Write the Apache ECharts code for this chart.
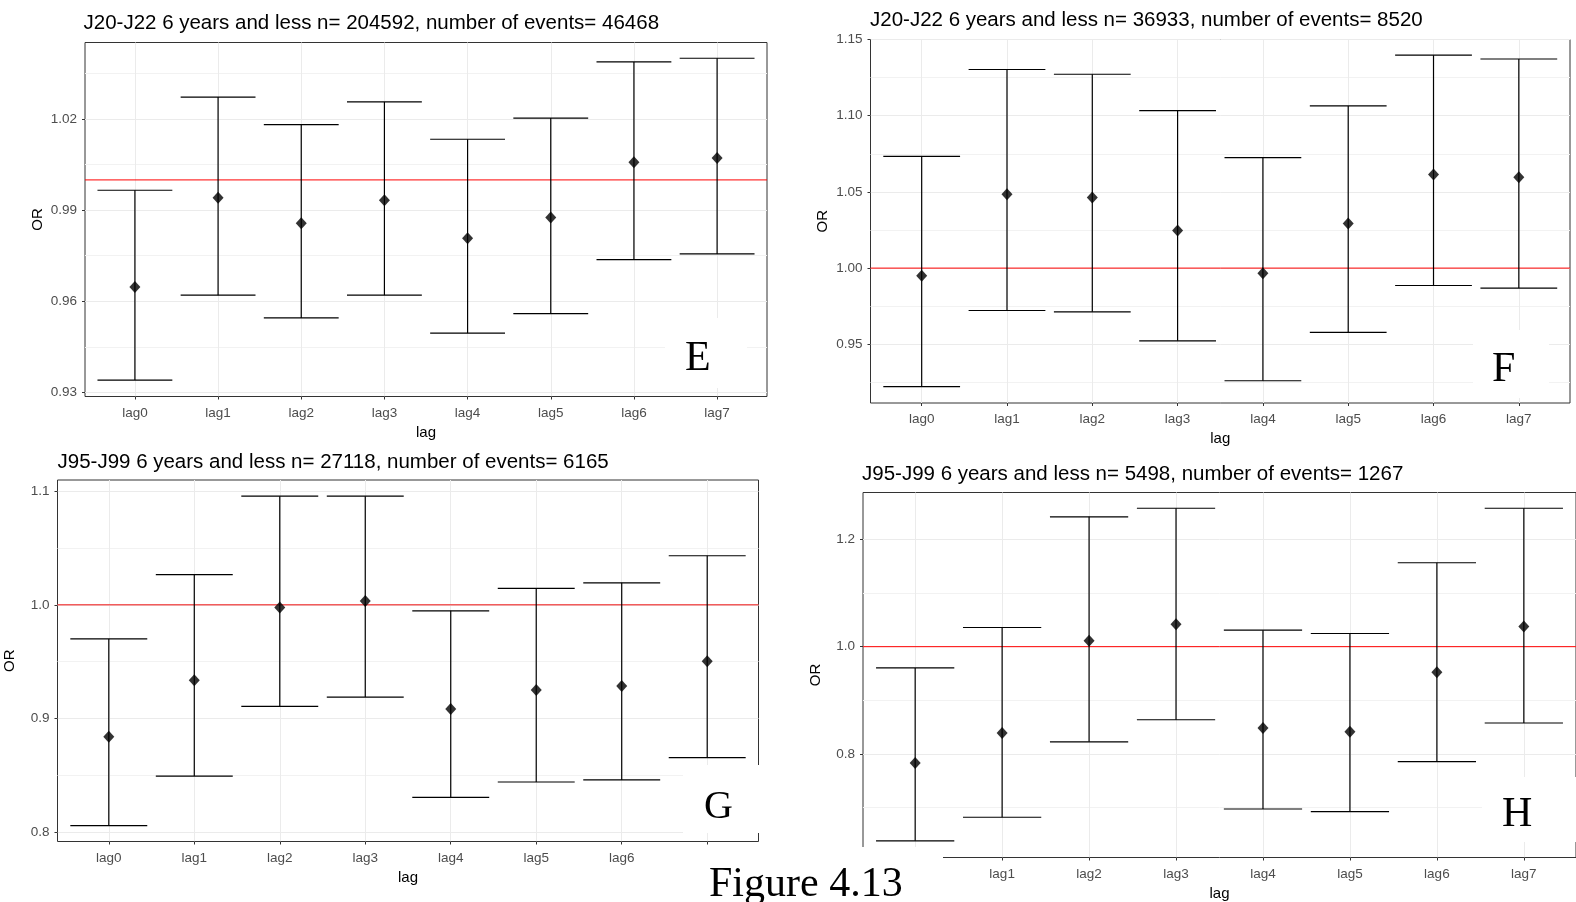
<!DOCTYPE html>
<html>
<head>
<meta charset="utf-8">
<script src="https://cdn.jsdelivr.net/npm/echarts@6/dist/echarts.min.js"></script>
<style>
  html, body { margin: 0; padding: 0; background: #fff; }
  #chart { width: 1576px; height: 902px; }
</style>
</head>
<body>
<div id="chart"></div>
<script>
// Lag categories shared by all four panels
const lags = ['lag0', 'lag1', 'lag2', 'lag3', 'lag4', 'lag5', 'lag6', 'lag7'];

// Panel E: J20-J22, n = 204592
const titleE = 'J20-J22 6 years and less n= 204592, number of events= 46468';
const orE   = [0.9647, 0.9941, 0.9857, 0.9933, 0.9808, 0.9876, 1.0058, 1.0072];
const lowE  = [0.9340, 0.9620, 0.9545, 0.9620, 0.9495, 0.9559, 0.9737, 0.9756];
const highE = [0.9966, 1.0273, 1.0182, 1.0257, 1.0134, 1.0204, 1.0389, 1.0401];
const ticksE = [0.93, 0.96, 0.99, 1.02];
const minorE = [0.945, 0.975, 1.005, 1.035];

// Panel F: J20-J22, n = 36933
const titleF = 'J20-J22 6 years and less n= 36933, number of events= 8520';
const orF   = [0.9950, 1.0485, 1.0463, 1.0247, 0.9967, 1.0292, 1.0614, 1.0597];
const lowF  = [0.9223, 0.9722, 0.9713, 0.9523, 0.9261, 0.9578, 0.9886, 0.9869];
const highF = [1.0733, 1.1303, 1.1272, 1.1033, 1.0725, 1.1064, 1.1397, 1.1372];
const ticksF = [0.95, 1.00, 1.05, 1.10, 1.15];
const minorF = [0.925, 0.975, 1.025, 1.075, 1.125];

// Panel G: J95-J99, n = 27118
const titleG = 'J95-J99 6 years and less n= 27118, number of events= 6165';
const orG   = [0.8840, 0.9337, 0.9977, 1.0033, 0.9083, 0.9250, 0.9286, 0.9503];
const lowG  = [0.8058, 0.8494, 0.9107, 0.9189, 0.8307, 0.8442, 0.8460, 0.8656];
const highG = [0.9700, 1.0265, 1.0955, 1.0955, 0.9947, 1.0144, 1.0193, 1.0431];
const ticksG = [0.8, 0.9, 1.0, 1.1];
const minorG = [0.85, 0.95, 1.05];

// Panel H: J95-J99, n = 5498
const titleH = 'J95-J99 6 years and less n= 5498, number of events= 1267';
const orH   = [0.7830, 0.8392, 1.0111, 1.0418, 0.8484, 0.8416, 0.9525, 1.0375];
const lowH  = [0.6380, 0.6820, 0.8226, 0.8638, 0.6974, 0.6924, 0.7856, 0.8577];
const highH = [0.9604, 1.0357, 1.2421, 1.2580, 1.0307, 1.0246, 1.1564, 1.2580];
const ticksH = [0.8, 1.0, 1.2];
const minorH = [0.7, 0.9, 1.1];

const refValue = 1.0;

const SANS = '"Liberation Sans", Arial, sans-serif';
const SERIF = '"Liberation Serif", "Times New Roman", serif';

// Layout of each panel (pixel boxes and axis ranges)
const panels = [
  { title: titleE, or: orE, low: lowE, high: highE, ticks: ticksE, minor: minorE, digits: 2,
    box: { left: 85, top: 42.5, width: 682, height: 354 }, yMin: 0.9286, yMax: 1.0453,
    titlePos: [83.5, 13], refColor: '#FF0000', refWidth: 1 },
  { title: titleF, or: orF, low: lowF, high: highF, ticks: ticksF, minor: minorF, digits: 2,
    box: { left: 870.5, top: 39.5, width: 699.5, height: 363.5 }, yMin: 0.9115, yMax: 1.15,
    titlePos: [870, 10], refColor: '#FF0000', refWidth: 1 },
  { title: titleG, or: orG, low: lowG, high: highG, ticks: ticksG, minor: minorG, digits: 1,
    box: { left: 57.5, top: 480, width: 701, height: 361.5 }, yMin: 0.7919, yMax: 1.1097,
    titlePos: [57.5, 452], refColor: '#F25C5C', refWidth: 1.6 },
  { title: titleH, or: orH, low: lowH, high: highH, ticks: ticksH, minor: minorH, digits: 1,
    box: { left: 863, top: 492.5, width: 721.5, height: 368 }, yMin: 0.607, yMax: 1.2874,
    titlePos: [862, 464], refColor: '#FF0000', refWidth: 1 }
];

const lagIdx = lags.map((_, i) => i);

// Confidence interval: vertical stem with caps 0.9 of a lag step wide
function renderErrorBar(params, api) {
  const x = api.value(0);
  const pLo = api.coord([x, api.value(1)]);
  const pHi = api.coord([x, api.value(2)]);
  const half = api.size([0.9, 0])[0] / 2;
  const style = { stroke: '#000', lineWidth: 1.2, fill: null };
  return {
    type: 'group',
    children: [
      { type: 'line', shape: { x1: pLo[0], y1: pLo[1], x2: pHi[0], y2: pHi[1] }, style },
      { type: 'line', shape: { x1: pLo[0] - half, y1: pLo[1], x2: pLo[0] + half, y2: pLo[1] }, style },
      { type: 'line', shape: { x1: pHi[0] - half, y1: pHi[1], x2: pHi[0] + half, y2: pHi[1] }, style }
    ]
  };
}

// Horizontal reference line at OR = 1 spanning the whole panel
function makeRefRenderer(color, width) {
  return function (params, api) {
    const cs = params.coordSys;
    const y = api.coord([0, api.value(0)])[1];
    return {
      type: 'line',
      shape: { x1: cs.x, y1: y, x2: cs.x + cs.width, y2: y },
      style: { stroke: color, lineWidth: width }
    };
  };
}

const grid = [], xAxis = [], yAxis = [], series = [], title = [];

panels.forEach((p, i) => {
  grid.push(Object.assign({ show: true, borderColor: '#333', borderWidth: 1,
                            backgroundColor: '#fff' }, p.box));
  title.push({
    text: p.title, left: p.titlePos[0], top: p.titlePos[1], padding: 0,
    textStyle: { fontSize: 20.5, fontWeight: 'normal', color: '#000', fontFamily: SANS }
  });
  xAxis.push({
    type: 'value', gridIndex: i, min: -0.6, max: 7.6,
    axisLine: { show: false, onZero: false },
    axisTick: { show: true, length: 3, customValues: lagIdx, lineStyle: { color: '#333' } },
    axisLabel: { customValues: lagIdx, formatter: v => lags[Math.round(v)],
                 color: '#4D4D4D', fontSize: 13.5, fontFamily: SANS, margin: 9.5 },
    splitLine: { show: true, lineStyle: { color: '#EBEBEB', width: 1 } },
    name: 'lag', nameLocation: 'middle', nameGap: 28.5,
    nameTextStyle: { fontSize: 15, color: '#000', fontFamily: SANS }
  });
  // main y axis: labels, ticks, major grid
  yAxis.push({
    type: 'value', gridIndex: i, min: p.yMin, max: p.yMax, position: 'left',
    axisLine: { show: false, onZero: false },
    axisTick: { show: true, length: 3, customValues: p.ticks, lineStyle: { color: '#333' } },
    axisLabel: { customValues: p.ticks, formatter: v => v.toFixed(p.digits),
                 color: '#4D4D4D', fontSize: 13.5, fontFamily: SANS, margin: 8 },
    splitLine: { show: true, lineStyle: { color: '#EBEBEB', width: 1 } },
    name: 'OR', nameLocation: 'middle', nameRotate: 90, nameGap: 40,
    nameTextStyle: { fontSize: 15, color: '#000', fontFamily: SANS }
  });
  // companion y axis carrying the minor grid lines only
  yAxis.push({
    type: 'value', gridIndex: i, min: p.yMin, max: p.yMax, position: 'left',
    axisLine: { show: false, onZero: false },
    axisTick: { show: false, customValues: p.minor },
    axisLabel: { show: false, customValues: p.minor },
    splitLine: { show: true, lineStyle: { color: '#F2F2F2', width: 1 } }
  });
  const yMain = i * 2;
  series.push({
    type: 'custom', xAxisIndex: i, yAxisIndex: yMain, z: 2, silent: true,
    renderItem: makeRefRenderer(p.refColor, p.refWidth),
    encode: { y: 0 },
    data: [[refValue]]
  });
  series.push({
    type: 'custom', xAxisIndex: i, yAxisIndex: yMain, z: 3,
    renderItem: renderErrorBar,
    encode: { x: 0, y: [1, 2] },
    data: lagIdx.map(k => [k, p.low[k], p.high[k]])
  });
  series.push({
    type: 'scatter', xAxisIndex: i, yAxisIndex: yMain, z: 4,
    symbol: 'diamond', symbolSize: [11, 12],
    itemStyle: { color: '#000' },
    data: lagIdx.map(k => [k, p.or[k]])
  });
});

// Panel letters on white plates, and the figure caption
const graphic = [
  { type: 'rect', z: 100, shape: { x: 665, y: 318, width: 82, height: 70 }, style: { fill: '#fff' } },
  { type: 'rect', z: 100, shape: { x: 1473, y: 330, width: 76, height: 68 }, style: { fill: '#fff' } },
  { type: 'rect', z: 100, shape: { x: 683, y: 765, width: 84, height: 68 }, style: { fill: '#fff' } },
  { type: 'rect', z: 100, shape: { x: 1482, y: 777, width: 100, height: 65 }, style: { fill: '#fff' } },
  { type: 'rect', z: 100, shape: { x: 660, y: 847, width: 283, height: 60 }, style: { fill: '#fff' } },
  { type: 'text', z: 101, x: 685, y: 359, style: { text: 'E', font: '42px ' + SERIF, fill: '#000', align: 'left', verticalAlign: 'middle' } },
  { type: 'text', z: 101, x: 1492, y: 370, style: { text: 'F', font: '42px ' + SERIF, fill: '#000', align: 'left', verticalAlign: 'middle' } },
  { type: 'text', z: 101, x: 704, y: 807, style: { text: 'G', font: '40px ' + SERIF, fill: '#000', align: 'left', verticalAlign: 'middle' } },
  { type: 'text', z: 101, x: 1502, y: 815, style: { text: 'H', font: '42px ' + SERIF, fill: '#000', align: 'left', verticalAlign: 'middle' } },
  { type: 'text', z: 101, x: 709, y: 885, style: { text: 'Figure 4.13', font: '42px ' + SERIF, fill: '#000', align: 'left', verticalAlign: 'middle' } }
];

const chart = echarts.init(document.getElementById('chart'), null, { renderer: 'canvas' });
chart.setOption({
  animation: false,
  backgroundColor: '#fff',
  title, grid, xAxis, yAxis, series, graphic
});
</script>
</body>
</html>
